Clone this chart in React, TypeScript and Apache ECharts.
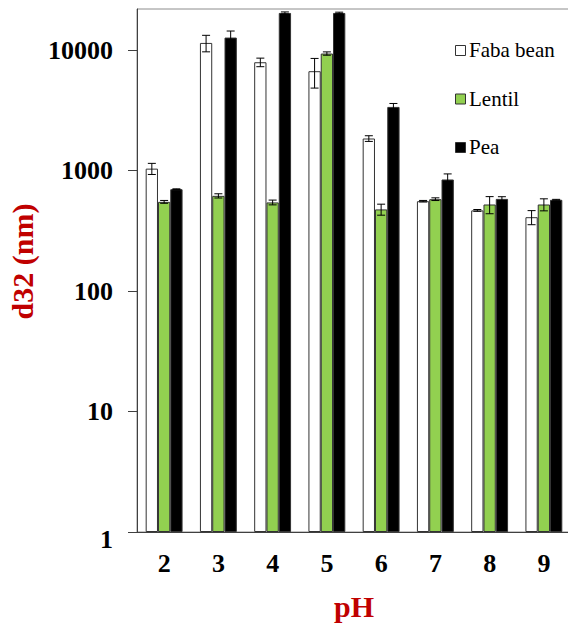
import React, { useEffect, useRef } from "react";
import * as echarts from "echarts";

const categories = ["2", "3", "4", "5", "6", "7", "8", "9"];
const seriesNames = ["Faba bean", "Lentil", "Pea"];
const faba = [1040, 11500, 7950, 6700, 1850, 558, 468, 411];
const fabaErr = [110, 1800, 650, 1850, 100, 8, 8, 55];
const lentil = [551, 618, 545, 9390, 477, 580, 524, 524];
const lentilErr = [15, 25, 25, 300, 50, 15, 85, 60];
const pea = [702, 12740, 20400, 20400, 3384, 845, 583, 573];
const peaErr = [5, 1700, 400, 300, 230, 95, 25, 5];
const yTicks = [1, 10, 100, 1000, 10000];

const FONT = "Liberation Serif";
const GAP = 0.32;

export default function App() {
  const ref = useRef<HTMLDivElement>(null);
  useEffect(() => {
    if (!ref.current) return;
    const chart = echarts.init(ref.current, null, { renderer: "svg" });
    const values = [faba, lentil, pea];
    const errs = [fabaErr, lentilErr, peaErr];
    const colors = ["#ffffff", "#92d050", "#000000"];

    const bars: any[] = values.map((vals, i) => ({
      name: seriesNames[i],
      type: "bar",
      data: vals,
      barGap: "0%",
      barCategoryGap: GAP * 100 + "%",
      itemStyle: { color: colors[i], borderColor: "#333333", borderWidth: 1 },
      z: 2,
    }));

    const errSeries: any[] = errs.map((er, i) => ({
      name: seriesNames[i] + " err",
      type: "custom",
      data: er.map((e, k) => [k, values[i][k], e]),
      encode: { x: 0, y: 1 },
      z: 5,
      silent: true,
      renderItem: (params: any, api: any) => {
        const k = api.value(0);
        const v = api.value(1);
        const e = api.value(2);
        const c0 = api.coord([k, v]);
        const c1 = api.coord([k + 1, v]);
        const band = Math.abs(c1[0] - c0[0]);
        const bw = (band * (1 - GAP)) / 3;
        const x = c0[0] + (i - 1) * bw;
        const yHi = api.coord([k, v + e])[1];
        const yLo = api.coord([k, Math.max(v - e, 1)])[1];
        const cap = 4;
        const style = { stroke: "#000000", lineWidth: 1, fill: null };
        return {
          type: "group",
          children: [
            { type: "line", shape: { x1: x, y1: yHi, x2: x, y2: yLo }, style },
            { type: "line", shape: { x1: x - cap, y1: yHi, x2: x + cap, y2: yHi }, style },
            { type: "line", shape: { x1: x - cap, y1: yLo, x2: x + cap, y2: yLo }, style },
          ],
        };
      },
    }));

    // legend drawn as graphic elements
    const legendTops = [50, 98.5, 147];
    const legendGraphic: any[] = [];
    seriesNames.forEach((n, i) => {
      legendGraphic.push({
        type: "rect",
        left: 455,
        top: legendTops[i] - 5,
        shape: { width: 10, height: 10 },
        style: { fill: colors[i], stroke: "#333333", lineWidth: 1 },
      });
      legendGraphic.push({
        type: "text",
        x: 469,
        y: legendTops[i],
        style: {
          text: n,
          fontFamily: FONT,
          fontSize: 21,
          fill: "#000",
          verticalAlign: "middle",
          align: "left",
        },
      });
    });

    chart.setOption({
      animation: false,
      textStyle: { fontFamily: FONT },
      grid: {
        left: 137,
        top: 9,
        width: 434,
        height: 523,
        outerBoundsMode: "none",
        containLabel: false,
        show: true,
        borderColor: "#8c8c8c",
        borderWidth: 1,
        backgroundColor: "transparent",
      },
      graphic: legendGraphic,
      xAxis: {
        type: "category",
        data: categories,
        name: "pH",
        nameLocation: "middle",
        nameGap: 59,
        nameTextStyle: { fontFamily: FONT, fontSize: 30, fontWeight: "bold", color: "#c00000" },
        axisLine: { lineStyle: { color: "#404040", width: 1 } },
        axisTick: { length: 9, lineStyle: { color: "#404040" } },
        axisLabel: { fontFamily: FONT, fontSize: 26, fontWeight: "bold", color: "#000", margin: 18 },
        splitLine: { show: false },
      },
      yAxis: {
        type: "log",
        logBase: 10,
        min: 1,
        max: 22000,
        name: "d32 (nm)",
        nameLocation: "middle",
        nameGap: 89,
        nameTextStyle: {
          fontFamily: FONT,
          fontSize: 30,
          fontWeight: "bold",
          color: "#c00000",
          padding: [0, 0, 0, 18],
        },
        axisLine: { show: true, lineStyle: { color: "#404040", width: 1 } },
        axisTick: { show: true, length: 9, customValues: yTicks, lineStyle: { color: "#404040" } },
        axisLabel: {
          fontFamily: FONT,
          fontSize: 26,
          fontWeight: "bold",
          color: "#000",
          margin: 24,
          customValues: yTicks,
          formatter: (v: number) => {
            const r = Math.round(v);
            return r === 1 ? "{low|1}" : String(r);
          },
          rich: {
            low: { fontFamily: FONT, fontSize: 26, fontWeight: "bold", color: "#000", padding: [14, 0, 0, 0] },
          },
        },
        splitLine: { show: false },
      },
      series: [...bars, ...errSeries],
    });
    return () => chart.dispose();
  }, []);
  return (
    <div
      ref={ref}
      style={{ position: "absolute", left: 0, top: 0, width: 568, height: 625, background: "#fff" }}
    />
  );
}
